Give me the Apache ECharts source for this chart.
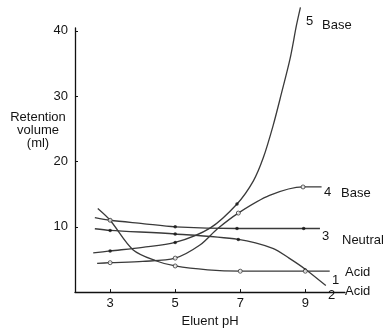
<!DOCTYPE html>
<html>
<head>
<meta charset="utf-8">
<script src="https://cdn.jsdelivr.net/npm/echarts@6/dist/echarts.min.js"></script>
<style>
html,body{margin:0;padding:0;background:#fff;}
#chart{width:389px;height:333px;}
</style>
</head>
<body>
<div id="chart"></div>
<script>
// Axis ticks
var xTicks = [3, 5, 7, 9];
var yTicks = [10, 20, 30, 40];

// Curves: [pH, retention volume (ml)]
var curve5Base = [[2.48,6.0],[3,6.3],[4,6.85],[5,7.6],[6.07,9.8],[6.9,13.5],[7.4,17.0],[7.71,20.6],[8.01,25.5],[8.27,30.5],[8.53,35.7],[8.73,40.9],[8.85,43.6]];
var curve4Base = [[2.6,4.4],[3,4.5],[4,4.7],[5,5.2],[5.76,7.2],[6.3,9.7],[6.94,12.1],[7.9,14.8],[8.93,16.1],[9.5,16.1]];
var curve3Neutral = [[2.53,11.4],[3,11.0],[4,10.5],[5,10.0],[6.9,9.74],[8.95,9.74],[9.45,9.74]];
var curve2Acid = [[2.53,9.7],[3,9.45],[5,8.9],[6.94,8.07],[8,6.7],[8.5,5.2],[9,3.5],[9.63,1.0]];
var curve1Acid = [[2.62,12.8],[3,11.0],[3.7,6.5],[4.4,4.8],[5,4.0],[6,3.4],[7,3.2],[9,3.2],[9.75,3.2]];

// Plotted data points (markers)
var marks5 = [[3,6.3],[5,7.6],[6.9,13.5],[8.73,40.9]];
var marks4 = [[3,4.5],[5,5.2],[6.94,12.1],[8.93,16.1]];
var marks3 = [[3,11.0],[5,10.0],[6.9,9.74],[8.95,9.74]];
var marks2 = [[3,9.45],[5,8.9],[6.94,8.07],[9,3.4]];
var marks1 = [[3,11.0],[5,4.0],[7,3.2],[9,3.2]];

var lineColor = '#3a3a3a';
var textColor = '#141414';
var font = 'Liberation Sans, Arial, sans-serif';

function lineSeries(data) {
  return {
    type: 'line', data: data, smooth: 0.3, showSymbol: false, clip: false,
    lineStyle: {color: lineColor, width: 1.3}, silent: true, animation: false
  };
}
function markSeries(data, filled) {
  return {
    type: 'scatter', data: data, symbol: 'circle', symbolSize: filled ? 3.5 : 4,
    itemStyle: filled ? {color: '#111'} : {color: '#fff', borderColor: '#333', borderWidth: 1},
    silent: true, animation: false, z: 5
  };
}
function txt(x, y, s, size) {
  return {type: 'text', x: x, y: y, style: {text: s, fill: textColor, font: size + 'px ' + font, textVerticalAlign: 'middle'}};
}
function ctxt(x, y, s) {
  return {type: 'text', x: x, y: y, style: {text: s, fill: textColor, font: '13px ' + font, textAlign: 'center', textVerticalAlign: 'middle'}};
}

var chart = echarts.init(document.getElementById('chart'), null, {renderer: 'canvas'});
chart.setOption({
  backgroundColor: '#fff',
  animation: false,
  grid: {left: 75, top: 28, width: 270, height: 274, containLabel: false},
  xAxis: {
    type: 'value', min: 1.92, max: 10.22,
    axisLine: {lineStyle: {color: '#111', width: 1.3}},
    axisTick: {inside: true, length: 3, customValues: xTicks, lineStyle: {color: '#111'}},
    axisLabel: {customValues: xTicks, color: textColor, fontSize: 13, fontFamily: font, margin: 5},
    splitLine: {show: false},
    name: 'Eluent pH', nameLocation: 'middle', nameGap: 15,
    nameTextStyle: {color: textColor, fontSize: 13, fontFamily: font}
  },
  yAxis: {
    type: 'value', min: 0, max: 40.44,
    axisLine: {show: true, lineStyle: {color: '#111', width: 1.3}},
    axisTick: {show: true, inside: true, length: 3, customValues: yTicks, lineStyle: {color: '#111'}},
    axisLabel: {customValues: yTicks, color: textColor, fontSize: 13, fontFamily: font, margin: 7},
    splitLine: {show: false}
  },
  graphic: [
    ctxt(38, 117, 'Retention'),
    ctxt(38, 130, 'volume'),
    ctxt(38, 143, '(ml)'),
    txt(306, 21, '5', 13),
    txt(322, 25, 'Base', 13),
    txt(324, 192, '4', 13),
    txt(341, 193, 'Base', 13),
    txt(322, 236, '3', 13),
    txt(342, 240, 'Neutral', 13),
    txt(345, 272, 'Acid', 13),
    txt(332, 280, '1', 13),
    txt(328, 295, '2', 13),
    txt(345, 291, 'Acid', 13)
  ],
  series: [
    lineSeries(curve5Base), lineSeries(curve4Base), lineSeries(curve3Neutral),
    lineSeries(curve2Acid), lineSeries(curve1Acid),
    markSeries(marks5, true), markSeries(marks4, false), markSeries(marks3, true),
    markSeries(marks2, true), markSeries(marks1, false)
  ]
});
</script>
</body>
</html>
